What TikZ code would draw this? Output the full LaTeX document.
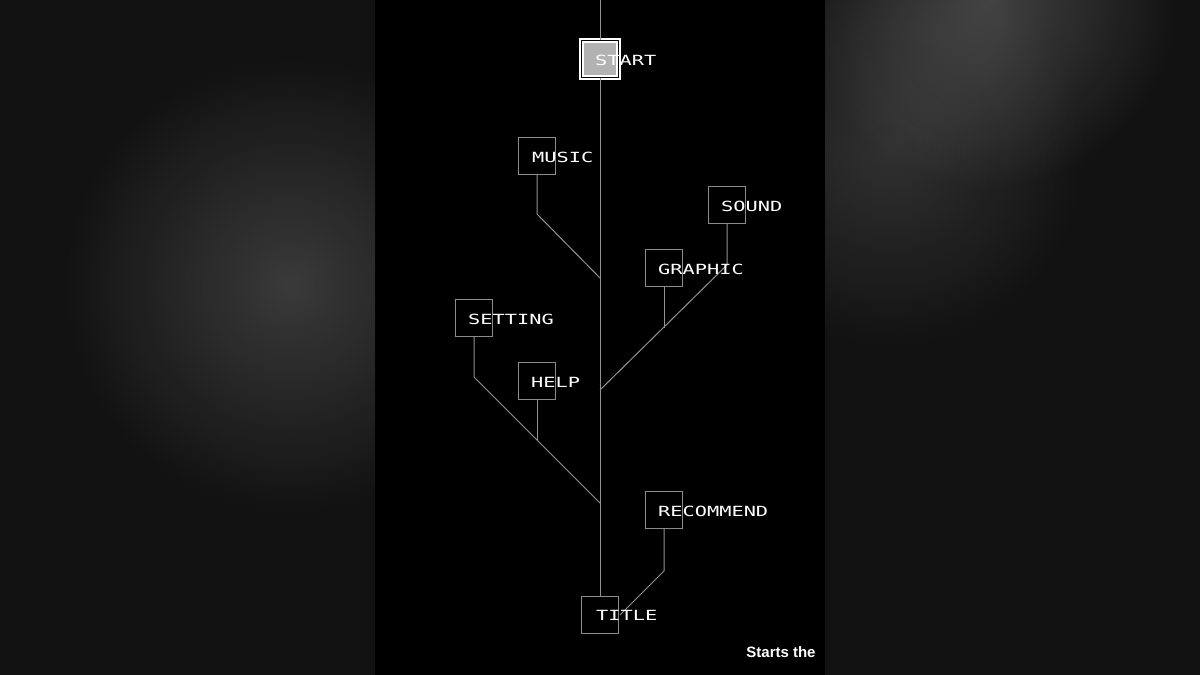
\documentclass[tikz,border=0pt]{standalone}
\usepackage{fontspec}
\usetikzlibrary{fadings}
\tikzfading[name=glowfade, inner color=transparent!0, outer color=transparent!100]
\newfontfamily\pix[FakeStretch=1.45]{DejaVu Sans Mono}
\newfontfamily\lsans{Liberation Sans}
\begin{document}
\begin{tikzpicture}[x=1pt,y=-1pt,
  box/.style={draw=gray!90,line width=1.2pt,minimum size=37pt,inner sep=0pt},
  lbl/.style={text=white,font=\pix\fontsize{14}{14}\selectfont,anchor=west,inner sep=0pt},
  ln/.style={draw=gray!85,line width=1pt}]
\fill[black] (0,0) rectangle (1200,675);
\useasboundingbox (0,0) rectangle (1200,675);
\fill[black!93!white] (0,0) rectangle (375,675);
\fill[black!93!white] (825,0) rectangle (1200,675);
\begin{scope}
\clip (0,0) rectangle (375,675);
\fill[white,opacity=0.17,path fading=glowfade] (290,285) circle (230);
\end{scope}
\begin{scope}
\clip (825,0) rectangle (1200,675);
\fill[white,opacity=0.13,path fading=glowfade] (890,150) circle (200);
\fill[white,opacity=0.2,path fading=glowfade] (990,0) circle (190);
\end{scope}
% nodes
\node[box,draw=white,line width=1.5pt,fill=gray!60,double=black,double distance=1.5pt] (start) at (600,59) {};
\node[box] (music) at (537,156) {};
\node[box] (sound) at (727,205) {};
\node[box] (graphic) at (664,268) {};
\node[box] (setting) at (474,318) {};
\node[box] (help) at (537,381) {};
\node[box] (rec) at (664,510) {};
\node[box] (title) at (600,615) {};
\coordinate (top) at (600,0);
\coordinate (m1) at (537,214); \coordinate (j1) at (600,278);
\coordinate (s1) at (727,265); \coordinate (j2) at (600,390);
\coordinate (g1) at (664,328);
\coordinate (t1) at (474,377); \coordinate (j3) at (600,503);
\coordinate (h1) at (537,440);
\coordinate (r1) at (664,571); \coordinate (r2) at (620,615);
% connectors
\draw[ln] (top) -- (start.north);
\draw[ln] (start.south) -- (title.north);
\draw[ln] (music.south) -- (m1) -- (j1);
\draw[ln] (sound.south) -- (s1) -- (j2);
\draw[ln] (graphic.south) -- (g1);
\draw[ln] (setting.south) -- (t1) -- (j3);
\draw[ln] (help.south) -- (h1);
\draw[ln] (rec.south) -- (r1) -- (r2);
% labels
\node[lbl] at (595,60) {START};
\node[lbl] at (532,157) {MUSIC};
\node[lbl] at (721,206) {SOUND};
\node[lbl] at (658,269) {GRAPHIC};
\node[lbl] at (468,319) {SETTING};
\node[lbl] at (531,382) {HELP};
\node[lbl] at (658,511) {RECOMMEND};
\node[lbl] at (596,615) {TITLE};
\node[text=white,font=\lsans\bfseries\fontsize{15}{15}\selectfont] at (781,652) {Starts the};
\end{tikzpicture}
\end{document}
